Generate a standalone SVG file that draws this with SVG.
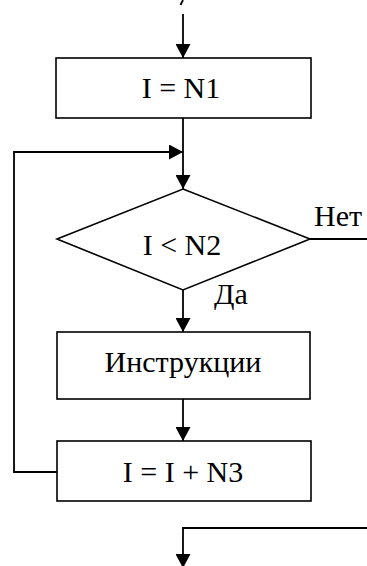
<svg xmlns="http://www.w3.org/2000/svg" width="367" height="566" viewBox="0 0 367 566">
<defs>
<style>
.box{fill:#fff;stroke:#000;stroke-width:1.6}
.ln{fill:none;stroke:#000;stroke-width:1.8}
.t{font-family:'Liberation Serif','Times New Roman',serif;font-size:30px;fill:#000}
.c{text-anchor:middle}
</style>
<marker id="ah" viewBox="0 0 14 15" refX="14" refY="7.5" markerWidth="14" markerHeight="15" markerUnits="userSpaceOnUse" orient="auto">
<path d="M0,0 L14,7.5 L0,15 Z" fill="#000"/>
</marker>
</defs>
<rect width="367" height="566" fill="#fff"/>
<g id="connectors">
<line class="ln" x1="183" y1="0" x2="180.5" y2="5" stroke-width="1.2"/>
<line class="ln" x1="183" y1="14" x2="183" y2="58" marker-end="url(#ah)"/>
<line class="ln" x1="183" y1="118" x2="183" y2="189" marker-end="url(#ah)"/>
<line class="ln" x1="14" y1="152" x2="183" y2="152" marker-end="url(#ah)"/>
<polyline class="ln" points="57,472 14,472 14,151.1"/>
<line class="ln" x1="310" y1="239" x2="367" y2="239"/>
<line class="ln" x1="183" y1="290" x2="183" y2="332" marker-end="url(#ah)"/>
<line class="ln" x1="183" y1="399" x2="183" y2="441" marker-end="url(#ah)"/>
<polyline class="ln" points="367,528 183,528 183,568" marker-end="url(#ah)"/>
</g>
<g id="init">
<rect class="box" x="56" y="58" width="255" height="60"/>
<text class="t c" x="181" y="98">I = N1</text>
</g>
<g id="cond">
<polygon class="box" points="183,189 310,239 183,290 57,239"/>
<text class="t c" x="182" y="255">I &lt; N2</text>
<text class="t" x="314" y="226">Нет</text>
<text class="t" x="214" y="304">Да</text>
</g>
<g id="body">
<rect class="box" x="57" y="332" width="253" height="67"/>
<text class="t c" x="183" y="372">Инструкции</text>
</g>
<g id="step">
<rect class="box" x="57" y="441" width="254" height="60"/>
<text class="t c" x="183" y="482">I = I + N3</text>
</g>
</svg>
